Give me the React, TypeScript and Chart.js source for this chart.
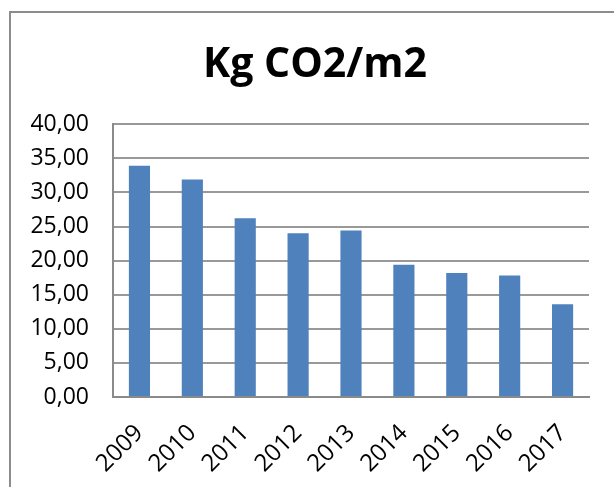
import React, { useEffect, useRef } from "react";
import { Chart, registerables } from "chart.js";

Chart.register(...registerables);

const categories = ["2009", "2010", "2011", "2012", "2013", "2014", "2015", "2016", "2017"];
const values = [33.9, 31.9, 26.2, 24.0, 24.4, 19.4, 18.2, 17.8, 13.6];
const titleText = "Kg CO2/m2";
const yMin = 0;
const yMax = 40;
const yStep = 5;

export default function App() {
  const ref = useRef<HTMLCanvasElement | null>(null);

  useEffect(() => {
    if (!ref.current) return;
    const chart = new Chart(ref.current, {
      type: "bar",
      data: {
        labels: categories,
        datasets: [
          {
            data: values,
            backgroundColor: "#4F81BD",
            borderWidth: 0,
            barPercentage: 0.4,
            categoryPercentage: 1.0,
          },
        ],
      },
      options: {
        animation: false,
        responsive: false,
        devicePixelRatio: 1,
        layout: { padding: { left: 16, right: 0, top: 0, bottom: 0 } },
        plugins: {
          legend: { display: false },
          tooltip: { enabled: false },
          title: {
            display: true,
            text: titleText,
            color: "#000",
            font: { family: "'Open Sans'", size: 41, weight: "bold", lineHeight: 1.2 },
            padding: { top: 41, bottom: 34 },
          },
        },
        scales: {
          x: {
            grid: { display: false, drawTicks: false },
            border: { display: true, color: "#8a8a8a", width: 2 },
            ticks: {
              color: "#000",
              font: { family: "'Open Sans'", size: 24 },
              maxRotation: 45,
              minRotation: 45,
              padding: 22,
            },
            afterFit: (scale: any) => {
              scale.height = 90;
            },
          },
          y: {
            min: yMin,
            max: yMax,
            grid: { color: "#999999", lineWidth: 2, drawTicks: false },
            border: { display: true, color: "#8a8a8a", width: 2 },
            ticks: {
              stepSize: yStep,
              color: "#000",
              font: { family: "'Open Sans'", size: 23 },
              padding: 24,
              callback: (v: any) => Number(v).toFixed(2).replace(".", ","),
            },
            afterFit: (scale: any) => {
              scale.width = 97;
            },
          },
          y2: {
            position: "right",
            min: yMin,
            max: yMax,
            grid: { display: false, drawTicks: false },
            border: { display: false },
            ticks: { display: false },
            afterFit: (scale: any) => {
              scale.width = 25;
            },
          },
        },
      },
    });
    return () => chart.destroy();
  }, []);

  return (
    <div style={{ position: "fixed", left: 0, top: 0, width: 614, height: 487, background: "#fff", overflow: "hidden" }}>
      <div
        style={{
          position: "absolute",
          left: 9,
          top: 11,
          width: 700,
          height: 600,
          borderLeft: "2px solid #8c8c8c",
          borderTop: "2px solid #8c8c8c",
        }}
      />
      <canvas ref={ref} width={614} height={487} style={{ position: "absolute", left: 0, top: 0 }} />
    </div>
  );
}
